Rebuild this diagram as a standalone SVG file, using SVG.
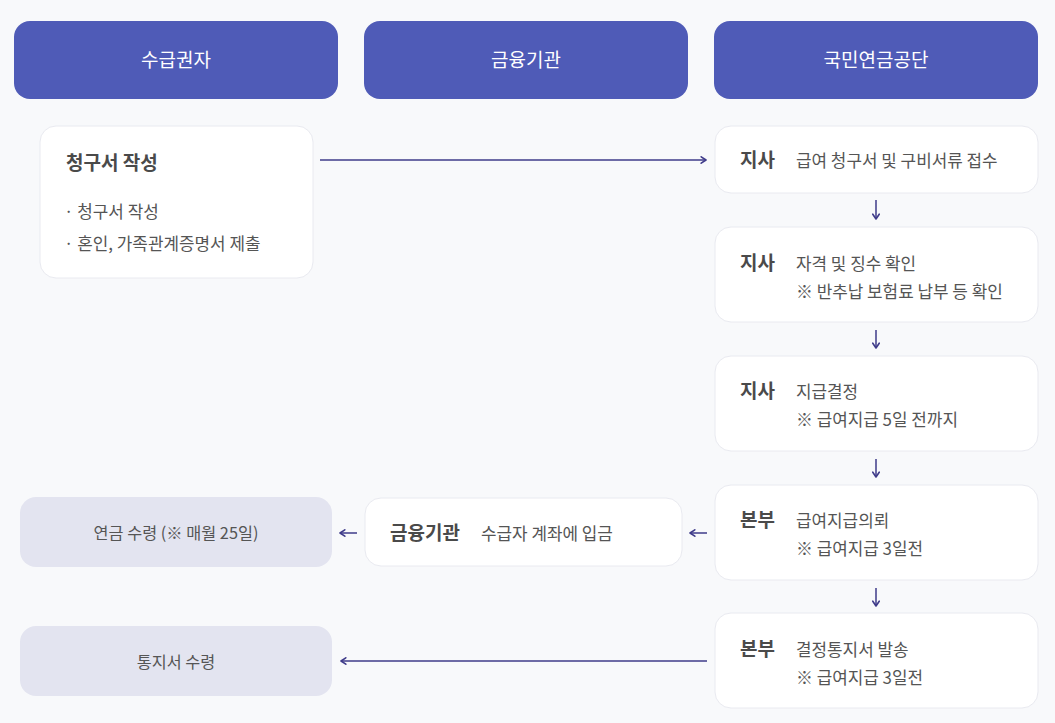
<svg xmlns="http://www.w3.org/2000/svg" width="1055" height="723" viewBox="0 0 1055 723">
<defs>
<marker id="ah" viewBox="0 0 10 10" refX="8" refY="5" markerWidth="8" markerHeight="8" markerUnits="userSpaceOnUse" orient="auto">
<path d="M2,1 L8,5 L2,9" fill="none" stroke="#3f3b8a" stroke-width="2" stroke-linecap="round" stroke-linejoin="round"/>
</marker>
<style>
text{font-family:"Noto Sans CJK KR","Noto Sans",sans-serif}
.hdr{fill:#4f5bb7}
.hdrt{fill:#ffffff;font-size:19px;text-anchor:middle}
.card{fill:#ffffff;stroke:#e9eaf0;stroke-width:1}
.grey{fill:#e3e4f0}
.ttl{fill:#4a4a4a;font-size:19px;font-weight:bold}
.tx{fill:#555555;font-size:16.9px}
.gt{fill:#555555;font-size:16.3px;text-anchor:middle}
.con{stroke:#3f3b8a;stroke-width:1.5;fill:none;marker-end:url(#ah)}
</style>
</defs>
<rect width="1055" height="723" fill="#f8f9fb"/>
<g id="h1"><rect class="hdr" x="14" y="21" width="324" height="78" rx="16"/><text class="hdrt" x="176" y="67">수급권자</text></g>
<g id="h2"><rect class="hdr" x="364" y="21" width="324" height="78" rx="16"/><text class="hdrt" x="526" y="67">금융기관</text></g>
<g id="h3"><rect class="hdr" x="714" y="21" width="324" height="78" rx="16"/><text class="hdrt" x="876" y="67">국민연금공단</text></g>

<g id="n-claim"><rect class="card" x="40" y="126" width="273" height="152" rx="16"/>
<text class="ttl" x="66" y="170">청구서 작성</text>
<text class="tx" x="64" y="218">· 청구서 작성</text>
<text class="tx" x="64" y="250">· 혼인, 가족관계증명서 제출</text></g>

<g id="n-r1"><rect class="card" x="715" y="126" width="323" height="67" rx="16"/>
<text class="ttl" x="740" y="167">지사</text><text class="tx" x="796" y="167">급여 청구서 및 구비서류 접수</text></g>
<g id="n-r2"><rect class="card" x="715" y="227" width="323" height="95" rx="16"/>
<text class="ttl" x="740" y="270">지사</text><text class="tx" x="796" y="270">자격 및 징수 확인</text><text class="tx" x="796" y="298">※ 반추납 보험료 납부 등 확인</text></g>
<g id="n-r3"><rect class="card" x="715" y="356" width="323" height="95" rx="16"/>
<text class="ttl" x="740" y="398">지사</text><text class="tx" x="796" y="398">지급결정</text><text class="tx" x="796" y="426">※ 급여지급 5일 전까지</text></g>
<g id="n-r4"><rect class="card" x="715" y="485" width="323" height="95" rx="16"/>
<text class="ttl" x="740" y="527">본부</text><text class="tx" x="796" y="527">급여지급의뢰</text><text class="tx" x="796" y="555">※ 급여지급 3일전</text></g>
<g id="n-r5"><rect class="card" x="715" y="613" width="323" height="95" rx="16"/>
<text class="ttl" x="740" y="656">본부</text><text class="tx" x="796" y="656">결정통지서 발송</text><text class="tx" x="796" y="684">※ 급여지급 3일전</text></g>

<g id="n-bank"><rect class="card" x="365" y="498" width="317" height="68" rx="16"/>
<text class="ttl" x="390" y="540">금융기관</text><text class="tx" x="481" y="540">수급자 계좌에 입금</text></g>

<g id="n-pension"><rect class="grey" x="20" y="497" width="312" height="70" rx="16"/><text class="gt" x="176" y="539">연금 수령 (※ 매월 25일)</text></g>
<g id="n-notice"><rect class="grey" x="20" y="626" width="312" height="70" rx="16"/><text class="gt" x="176" y="668">통지서 수령</text></g>

<g id="connectors">
<path class="con" d="M320,160 H706"/>
<path class="con" d="M707,661 H341"/>
<path class="con" d="M876,200 V219"/>
<path class="con" d="M876,330 V348"/>
<path class="con" d="M876,459 V477"/>
<path class="con" d="M876,588 V606"/>
<path class="con" d="M707,533 H690"/>
<path class="con" d="M357,533 H340"/>
</g>
</svg>
